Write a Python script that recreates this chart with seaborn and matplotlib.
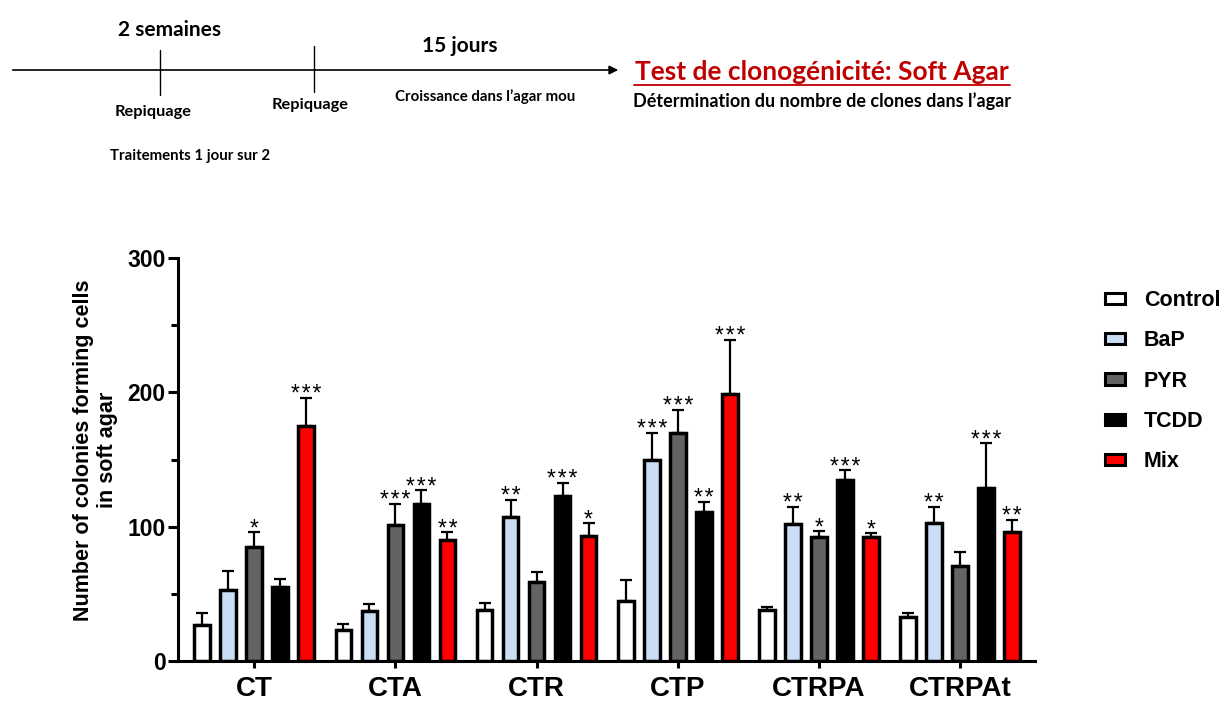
import matplotlib
matplotlib.use("Agg")
import matplotlib.pyplot as plt
import numpy as np
import pandas as pd
import seaborn as sns
from matplotlib.patches import Patch

# cell lines on the x axis
lines = ["CT", "CTA", "CTR", "CTP", "CTRPA", "CTRPAt"]
treatments = ["Control", "BaP", "PYR", "TCDD", "Mix"]

# mean number of colonies
control = [27, 23, 38, 45, 38, 33]
bap = [53, 37, 107, 150, 102, 103]
pyr = [85, 101, 59, 170, 92, 71]
tcdd = [55, 117, 123, 111, 135, 129]
mix = [175, 90, 93, 199, 92, 96]

# upper error bar (SEM)
control_err = [9, 4.5, 5, 15, 2.5, 3]
bap_err = [14, 5.5, 13, 20, 13, 12]
pyr_err = [11, 16, 7, 17, 5, 10]
tcdd_err = [6, 10, 9.5, 7.5, 7, 33]
mix_err = [21, 6, 10, 40, 3, 9]

# significance stars
control_sig = ["", "", "", "", "", ""]
bap_sig = ["", "", "**", "***", "**", "**"]
pyr_sig = ["*", "***", "", "***", "*", ""]
tcdd_sig = ["", "***", "***", "**", "***", "***"]
mix_sig = ["***", "**", "*", "***", "*", "**"]

colors = ["#ffffff", "#c9ddf5", "#636363", "#000000", "#ff0000"]

means = [control, bap, pyr, tcdd, mix]
errs = [control_err, bap_err, pyr_err, tcdd_err, mix_err]
sigs = [control_sig, bap_sig, pyr_sig, tcdd_sig, mix_sig]

df = pd.DataFrame(
    [
        {"line": ln, "treatment": tr, "colonies": means[i][j]}
        for i, tr in enumerate(treatments)
        for j, ln in enumerate(lines)
    ]
)

sns.set_style("ticks")
plt.rcParams["font.family"] = ["Liberation Sans", "DejaVu Sans"]
for key in ["text.color", "axes.labelcolor", "xtick.color", "ytick.color", "axes.edgecolor"]:
    plt.rcParams[key] = "black"

W, H = 1226, 702
fig = plt.figure(figsize=(W / 100, H / 100), dpi=100)

# ---- timeline sketch on top (pixel coordinates) ----
top = fig.add_axes([0, 0, 1, 1], zorder=-1)
top.set_xlim(0, W)
top.set_ylim(H, 0)
top.axis("off")
cal = ["Lato", "DejaVu Sans"]
top.annotate(
    "",
    xy=(621, 70),
    xytext=(10, 70),
    arrowprops=dict(arrowstyle="-|>", color="black", lw=1.2, mutation_scale=13),
)
top.plot([160, 160], [50, 95], color="black", lw=1.0)
top.plot([314, 314], [46, 92], color="black", lw=1.0)
top.text(169, 30, "2 semaines", ha="center", va="center", fontsize=15,
         fontweight="bold", family=cal)
top.text(460, 46, "15 jours", ha="center", va="center", fontsize=15,
         fontweight="bold", family=cal)
top.text(153, 112, "Repiquage", ha="center", va="center", fontsize=11.8,
         fontweight="bold", family=cal)
top.text(310, 105, "Repiquage", ha="center", va="center", fontsize=11.8,
         fontweight="bold", family=cal)
top.text(485, 97, "Croissance dans l’agar mou", ha="center", va="center",
         fontsize=10.8, fontweight="bold", family=cal)
top.text(190, 156, "Traitements 1 jour sur 2", ha="center", va="center",
         fontsize=10.8, fontweight="bold", family=cal)
top.text(822, 72, "Test de clonogénicité: Soft Agar", ha="center", va="center",
         fontsize=19, fontweight="bold", color="#c00000", family=cal)
top.plot([634, 1010], [85, 85], color="#c00000", lw=1.3)
top.text(822, 101, "Détermination du nombre de clones dans l’agar",
         ha="center", va="center", fontsize=13, fontweight="bold", family=cal)

# ---- bar chart ----
ax = fig.add_axes([178 / W, 1 - 661 / H, 857 / W, 403 / H])
sns.barplot(
    data=df,
    x="line",
    y="colonies",
    hue="treatment",
    order=lines,
    hue_order=treatments,
    palette=colors,
    saturation=1,
    edgecolor="black",
    linewidth=2.5,
    width=0.92,
    gap=0.4,
    errorbar=None,
    legend=False,
    ax=ax,
)

for cont, m, e, s in zip(ax.containers, means, errs, sigs):
    xs = [b.get_x() + b.get_width() / 2 for b in cont]
    ax.errorbar(
        xs, m, yerr=[np.zeros(len(e)), e], fmt="none", ecolor="black",
        elinewidth=1.6, capsize=4.5, capthick=1.6, zorder=1,
    )
    for x, mv, ev, st in zip(xs, m, e, s):
        if st:
            ax.annotate("\u200a".join(st), xy=(x, mv + ev), xytext=(0, -2.5),
                        textcoords="offset points", ha="center",
                        va="baseline", fontsize=16.5)

ax.set_ylim(0, 300)
ax.set_xlim(-0.54, 5.53)
ax.set_yticks([0, 100, 200, 300])
ax.set_yticks([50, 150, 250], minor=True)
ax.set_xlabel("")
ax.set_ylabel("Number of colonies forming cells\nin soft agar",
              fontsize=15.5, fontweight="bold")
ax.yaxis.set_label_coords(-0.070, 0.524)
sns.despine(ax=ax)
for sp in ["left", "bottom"]:
    ax.spines[sp].set_linewidth(2.2)
ax.tick_params(axis="y", which="major", length=7, width=2.2, labelsize=16.5, pad=2)
ax.tick_params(axis="y", which="minor", length=5, width=2.2)
ax.tick_params(axis="x", length=5, width=2.2, labelsize=20, pad=6)
for lab in ax.get_xticklabels() + ax.get_yticklabels():
    lab.set_fontweight("bold")

handles = [Patch(facecolor=c, edgecolor="black", linewidth=2.2) for c in colors]
fig.legend(
    handles, treatments, loc="upper left", bbox_to_anchor=(1105 / W, 1 - 290 / H),
    frameon=False, prop={"weight": "bold", "size": 15.5},
    handlelength=0.95, handleheight=0.42, labelspacing=0.9, handletextpad=0.85,
    borderpad=0, borderaxespad=0,
)

fig.savefig("out.png", dpi=100)
